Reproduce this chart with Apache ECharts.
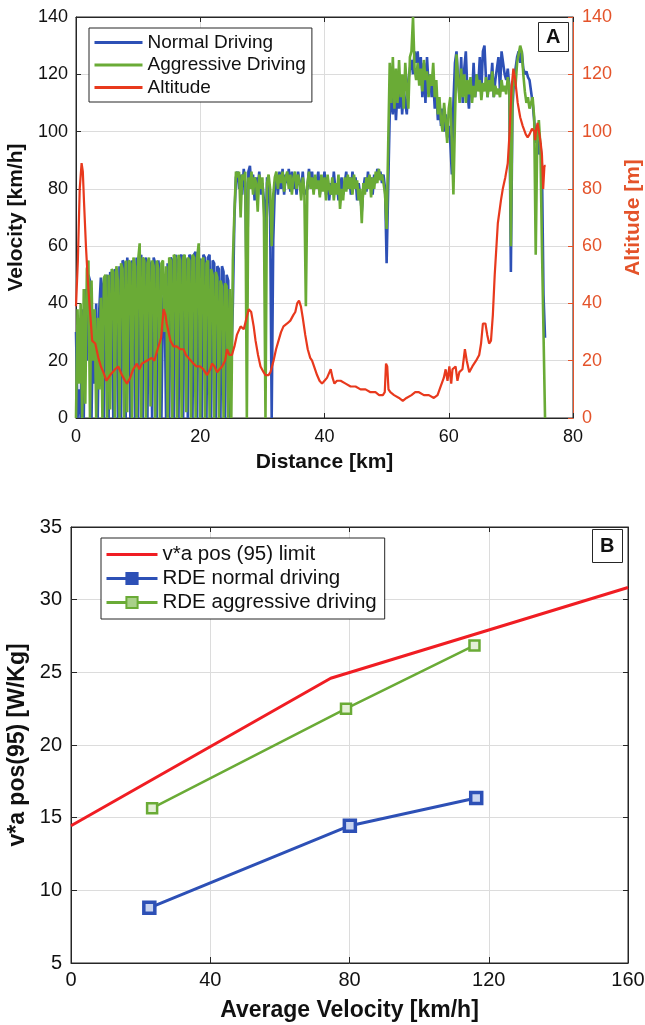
<!DOCTYPE html>
<html>
<head>
<meta charset="utf-8">
<script src="https://cdn.jsdelivr.net/npm/echarts@6/dist/echarts.min.js"></script>
<style>
  html, body { margin: 0; padding: 0; background: #fff; }
  #chart { width: 645px; height: 1025px; }
</style>
</head>
<body>
<div id="chart"></div>
<script>
// ---- panel A: RDE trip, velocity + altitude vs distance ----
// sample positions [km] shared by both velocity traces
var velDist = [
  0,0.25,0.5,0.75,1,1.25,1.5,1.75,2,2.25,2.5,2.75,3,3.25,3.5,3.75,4,4.25,4.5,4.75,
  5,5.25,5.5,5.75,6,6.25,6.5,6.75,7,7.25,7.5,7.75,8,8.25,8.5,8.75,9,9.25,9.5,9.75,
  10,10.25,10.5,10.75,11,11.25,11.5,11.75,12,12.25,12.5,12.75,13,13.25,13.5,13.75,14,14.25,14.5,14.75,
  15,15.25,15.5,15.75,16,16.25,16.5,16.75,17,17.25,17.5,17.75,18,18.25,18.5,18.75,19,19.25,19.5,19.75,
  20,20.25,20.5,20.75,21,21.25,21.5,21.75,22,22.25,22.5,22.75,23,23.25,23.5,23.75,24,24.25,24.5,24.75,
  25,25.25,25.5,25.75,26,26.25,26.5,26.75,27,27.25,27.5,27.75,28,28.25,28.5,28.75,29,29.25,29.5,29.75,
  30,30.25,30.5,30.75,31,31.25,31.5,31.75,32,32.25,32.5,32.75,33,33.25,33.5,33.75,34,34.25,34.5,34.75,
  35,35.25,35.5,35.75,36,36.25,36.5,36.75,37,37.25,37.5,37.75,38,38.25,38.5,38.75,39,39.25,39.5,39.75,
  40,40.25,40.5,40.75,41,41.25,41.5,41.75,42,42.25,42.5,42.75,43,43.25,43.5,43.75,44,44.25,44.5,44.75,
  45,45.25,45.5,45.75,46,46.25,46.5,46.75,47,47.25,47.5,47.75,48,48.25,48.5,48.75,49,49.25,49.5,49.75,
  50,50.25,50.5,50.75,51,51.25,51.5,51.75,52,52.25,52.5,52.75,53,53.25,53.5,53.75,54,54.25,54.5,54.75,
  55,55.25,55.5,55.75,56,56.25,56.5,56.75,57,57.25,57.5,57.75,58,58.25,58.5,58.75,59,59.25,59.5,59.75,
  60,60.25,60.5,60.75,61,61.25,61.5,61.75,62,62.25,62.5,62.75,63,63.25,63.5,63.75,64,64.25,64.5,64.75,
  65,65.25,65.5,65.75,66,66.25,66.5,66.75,67,67.25,67.5,67.75,68,68.25,68.5,68.75,69,69.25,69.5,69.75,
  70,70.25,70.5,70.75,71,71.25,71.5,71.75,72,72.25,72.5,72.75,73,73.25,73.5,73.75,74,74.25,74.5,74.75,
  75,75.25,75.5
];

// normal driving velocity [km/h]
var velNormal = [
  30,0,10,0, 38,0,45,20, 50,48,0,35, 12,40,0,38, 49,45,0,48,
  50,0,51,49, 0,52,50,0, 53,0,55,54, 0,56,50,0, 55,53,0,56,
  0,55,57,0, 54,56,0,55, 53,0,56,54, 0,55,50,0, 41,44,0,54,
  0,56,55,0, 57,55,0,56, 57,0,56,55, 0,57,56,0, 57,58,0,56,
  55,0,57,56, 0,56,57,0, 55,54,0,53, 52,0,53,51, 0,50,48,0,
  20,40,70,84, 86,80,85,78, 87,82,40,86, 88,80,85,76, 84,80,86,78,
  82,76,60,84, 80,70,0,62, 80,85,78,86, 80,87,78,85, 82,87,79,86,
  80,85,78,86, 82,80,86,78, 78,80,87,82, 86,79,84,82, 86,78,83,81,
  86,78,84,76, 82,78,86,80, 82,76,80,84, 78,82,86,80, 84,78,86,82,
  84,76,82,78, 72,80,84,79, 86,80,84,78, 85,82,87,84, 86,82,85,80,
  54,80,106,112, 106,116,104,114, 108,118,106,115, 110,106,118,122, 125,120,128,124,
  128,118,126,112, 124,110,126,116, 120,112,118,108, 114,104,110,102, 108,100,106,98,
  102,96,85,110, 124,128,118,112, 126,110,122,128, 114,108,118,112, 124,112,120,116,
  126,114,128,130, 118,112,120,116, 124,112,118,122, 126,114,128,124, 120,118,122,116,
  51,108,118,122, 126,128,124,128, 122,120,121,119, 118,114,110,104, 96,98,92,96,
  88,43,28
];

// aggressive driving velocity [km/h]
var velAggressive = [
  0,38,12,40, 0,45,5,52, 55,0,48,20, 38,0,35,10, 42,0,49,50,
  0,50,3,52, 51,0,53,48, 0,54,52,0, 55,2,55,54, 0,56,53,0,
  55,61,0,56, 55,0,54,56, 4,55,53,0, 55,52,0,54, 55,30,53,0,
  56,55,0,57, 56,0,57,55, 0,56,57,2, 56,55,0,57, 56,0,56,61,
  0,55,56,0, 54,55,0,52, 50,0,51,49, 0,48,46,0, 47,46,0,45,
  0,55,72,86, 84,86,70,85, 83,86,0,84, 80,86,78,84, 82,72,85,80,
  84,70,0,82, 85,80,60,78, 84,86,80,85, 82,86,79,84, 86,80,85,78,
  84,86,80,85, 82,76,84,80, 39,82,86,80, 84,78,85,80, 83,77,85,79,
  84,76,85,80, 78,84,76,82, 78,85,73,80, 76,84,79,85, 80,84,78,85,
  80,83,76,80, 68,82,78,84, 80,85,77,84, 80,86,82,87, 83,85,82,78,
  66,95,124,110, 126,108,122,110, 125,112,120,108, 124,115,108,126, 128,140,122,118,
  124,116,122,114, 125,118,121,112, 120,116,124,112, 118,106,112,104, 100,110,104,96,
  108,112,96,78, 104,127,118,110, 122,112,120,110, 118,113,119,110, 116,112,120,114,
  118,111,117,114, 119,112,118,114, 121,112,116,113, 115,112,118,114, 116,113,119,116,
  60,112,120,116, 124,127,130,128, 120,114,110,112, 108,110,112,105, 57,98,104,95,
  60,30,0
];

// altitude profile
var altDist = [
  0,0.3,0.6,0.9,1.1,1.3,1.6,1.9,2.3,2.6,3.1,3.6,4.0,4.4,4.9,5.5,6.3,6.8,7.4,7.9,
  8.2,8.7,9.2,9.8,10.2,10.6,11.4,12.2,12.6,13.0,13.7,14.1,14.4,14.6,15.2,15.7,16.2,16.8,17.3,17.7,
  18.1,18.9,19.4,20.0,20.5,21.1,21.6,21.9,22.3,22.7,23.1,23.5,24.0,24.3,24.7,25.1,25.5,25.9,26.5,27.0,
  27.3,27.8,28.2,28.6,28.9,29.3,29.7,30.2,30.5,31.0,31.3,31.8,32.2,32.6,33.0,33.4,34.0,34.5,35.0,35.3,
  35.6,35.9,36.2,36.5,36.9,37.3,37.7,38.0,38.3,38.8,39.2,39.6,40.0,40.4,40.8,41.0,41.3,41.6,42.0,42.6,
  43.4,44.2,45.0,45.8,46.6,47.4,48.2,48.8,49.4,49.7,49.9,50.1,50.3,50.6,51.2,52.0,52.6,53.2,54.0,54.6,
  55.2,56.0,56.8,57.6,58.2,58.7,59.2,59.5,59.8,60.1,60.4,60.6,61.1,61.4,61.7,62.2,62.6,62.9,63.3,63.8,
  64.4,64.9,65.2,65.5,65.9,66.2,66.5,66.8,67.1,67.4,67.9,68.4,68.7,69.1,69.5,69.8,70.1,70.4,70.7,71.1,
  71.5,71.9,72.4,72.7,73.0,73.4,73.8,73.9,74.1,74.3,74.6,74.8,75.0,75.2,75.4,75.6
];
var altitude = [
  39,55,80,89,86,75,60,48,36,27,26,21,18,16,13,15,17,18,15,13,
  12,14,17,19,17,19,20,21,20,23,28,38,36,33,27,25,25,24,24,22,
  21,19,18,18,17,15,17,19,18,16,17,18,20,24,22,22,25,29,32,31,
  31,38,37,32,27,22,18,16,15,15,16,20,24,27,30,32,33,34,36,37,
  40,41,39,35,29,24,21,20,20,15,13,12,13,14,16,17,14,12,13,13,
  12,11,11,10,10,9,9,8,8,9,19,18,10,9,8,7,6,7,8,9,
  9,8,8,7,8,11,14,17,13,18,12,17,18,13,16,17,24,20,16,18,
  20,22,26,33,33,29,26,27,36,50,68,76,80,84,89,100,115,122,118,110,
  105,102,99,98,99,101,100,97,101,103,99,96,92,80,88,88
];

// ---- panel B: v*a pos(95) vs average velocity ----
var limitSpeed = [0, 74.6, 160];
var limitVa = [14.44, 24.59, 30.84];
var normalSpeed = [22.5, 80.1, 116.4];
var normalVa = [8.8, 14.45, 16.35];
var aggressiveSpeed = [23.3, 79.0, 115.9];
var aggressiveVa = [15.65, 22.5, 26.85];

var xTicksA = [0, 20, 40, 60, 80];
var yTicksA = [0, 20, 40, 60, 80, 100, 120, 140];
var xTicksB = [0, 40, 80, 120, 160];
var yTicksB = [5, 10, 15, 20, 25, 30, 35];

function pairs (xs, ys) {
  var out = []
  for (var i = 0; i < xs.length; i++) {
    out.push([xs[i], ys[i]])
  }
  return out
}

var FONT = 'Liberation Sans, Arial, Helvetica, sans-serif'
var DARK = '#262626'
var GRIDC = '#dcdcdc'
var BLUE = '#2d50b6'
var GREEN = '#6aab36'
var ALT = '#e8391d'
var ALT_AXIS = '#e4532a'
var RED = '#f01d23'

function tickAxis (extra) {
  var base = {
    type: 'value',
    axisLine: { show: true, onZero: false, lineStyle: { color: DARK, width: 1 } },
    axisTick: { show: true, inside: true, length: 5, lineStyle: { color: DARK } },
    axisLabel: { show: false },
    splitLine: { show: false }
  }
  return Object.assign(base, extra)
}

// legend entry with a plain line (no marker)
function lineOnly (name) {
  return { name: name, itemStyle: { opacity: 0 }, lineStyle: { width: 3 } }
}

var option = {
  animation: false,
  backgroundColor: '#fff',
  textStyle: { fontFamily: FONT },
  title: [{
    text: 'A',
    left: 538,
    top: 22,
    padding: [5, 8, 5, 8],
    borderColor: DARK,
    borderWidth: 1,
    backgroundColor: '#fff',
    textStyle: { fontSize: 20, fontWeight: 'bold', color: '#111', fontFamily: FONT }
  }, {
    text: 'B',
    left: 592,
    top: 529,
    padding: [7, 8, 7, 8],
    borderColor: DARK,
    borderWidth: 1,
    backgroundColor: '#fff',
    textStyle: { fontSize: 20, fontWeight: 'bold', color: '#111', fontFamily: FONT }
  }],
  legend: [{
    data: [lineOnly('Normal Driving'), lineOnly('Aggressive Driving'), lineOnly('Altitude')],
    orient: 'vertical',
    left: 89,
    top: 28,
    itemWidth: 48,
    itemHeight: 14,
    itemGap: 3.5,
    padding: [5, 6, 5, 4],
    borderColor: DARK,
    borderWidth: 1,
    backgroundColor: '#fff',
    selectedMode: false,
    textStyle: { fontSize: 19, color: '#111', fontFamily: FONT }
  }, {
    data: [
      lineOnly('v*a pos (95) limit'),
      { name: 'RDE normal driving', itemStyle: { color: BLUE, borderColor: BLUE }, lineStyle: { width: 3 } },
      { name: 'RDE aggressive driving', itemStyle: { color: '#a9d08a', borderColor: GREEN }, lineStyle: { width: 3 } }
    ],
    orient: 'vertical',
    left: 101,
    top: 538,
    itemWidth: 51,
    itemHeight: 14,
    itemGap: 3,
    padding: [6, 8, 6, 4],
    borderColor: DARK,
    borderWidth: 1,
    backgroundColor: '#fff',
    selectedMode: false,
    textStyle: { fontSize: 20.5, color: '#111', fontFamily: FONT }
  }],
  grid: [{
    left: 76, top: 17, width: 497, height: 401,
    outerBoundsMode: 'none',
    show: true, borderColor: DARK, borderWidth: 1
  }, {
    left: 71, top: 527, width: 557, height: 436,
    outerBoundsMode: 'none',
    show: true, borderColor: DARK, borderWidth: 1
  }],
  xAxis: [{
    gridIndex: 0,
    type: 'value',
    min: xTicksA[0],
    max: xTicksA[xTicksA.length - 1],
    interval: 20,
    axisLine: { onZero: false, lineStyle: { color: DARK } },
    axisTick: { inside: true, length: 5, lineStyle: { color: DARK } },
    axisLabel: { fontSize: 18, color: '#111', margin: 10, fontFamily: FONT },
    splitLine: { show: true, lineStyle: { color: GRIDC } },
    name: 'Distance [km]',
    nameLocation: 'middle',
    nameGap: 34,
    nameTextStyle: { fontSize: 21, fontWeight: 'bold', color: '#111', fontFamily: FONT }
  },
  tickAxis({ gridIndex: 0, position: 'top', min: 0, max: 80, interval: 20 }),
  {
    gridIndex: 1,
    type: 'value',
    min: xTicksB[0],
    max: xTicksB[xTicksB.length - 1],
    interval: 40,
    axisLine: { onZero: false, lineStyle: { color: DARK } },
    axisTick: { inside: true, length: 6, lineStyle: { color: DARK } },
    axisLabel: { fontSize: 20, color: '#111', margin: 7, fontFamily: FONT },
    splitLine: { show: true, lineStyle: { color: GRIDC } },
    name: 'Average Velocity [km/h]',
    nameLocation: 'middle',
    nameGap: 36,
    nameTextStyle: { fontSize: 23, fontWeight: 'bold', color: '#111', fontFamily: FONT }
  },
  tickAxis({ gridIndex: 1, position: 'top', min: 0, max: 160, interval: 40 })
  ],
  yAxis: [{
    gridIndex: 0,
    type: 'value',
    position: 'left',
    min: yTicksA[0],
    max: yTicksA[yTicksA.length - 1],
    interval: 20,
    axisLine: { show: true, onZero: false, lineStyle: { color: DARK } },
    axisTick: { show: true, inside: true, length: 5, lineStyle: { color: DARK } },
    axisLabel: { fontSize: 18, color: '#111', margin: 8, fontFamily: FONT },
    splitLine: { show: true, lineStyle: { color: GRIDC } },
    name: 'Velocity [km/h]',
    nameLocation: 'middle',
    nameGap: 40,
    nameTextStyle: { fontSize: 21, fontWeight: 'bold', color: '#111', fontFamily: FONT }
  }, {
    gridIndex: 0,
    type: 'value',
    position: 'right',
    min: 0,
    max: 140,
    interval: 20,
    axisLine: { show: true, onZero: false, lineStyle: { color: ALT_AXIS } },
    axisTick: { show: true, inside: true, length: 5, lineStyle: { color: ALT_AXIS } },
    axisLabel: { fontSize: 18, color: ALT_AXIS, margin: 9, fontFamily: FONT },
    splitLine: { show: false },
    name: 'Altitude [m]',
    nameLocation: 'middle',
    nameGap: 47,
    nameTextStyle: { fontSize: 21, fontWeight: 'bold', color: ALT_AXIS, fontFamily: FONT }
  }, {
    gridIndex: 1,
    type: 'value',
    position: 'left',
    min: yTicksB[0],
    max: yTicksB[yTicksB.length - 1],
    interval: 5,
    axisLine: { show: true, onZero: false, lineStyle: { color: DARK } },
    axisTick: { show: true, inside: true, length: 6, lineStyle: { color: DARK } },
    axisLabel: { fontSize: 20, color: '#111', margin: 9, fontFamily: FONT },
    splitLine: { show: true, lineStyle: { color: GRIDC } },
    name: 'v*a pos(95) [W/Kg]',
    nameLocation: 'middle',
    nameGap: 28,
    nameTextStyle: { fontSize: 23, fontWeight: 'bold', color: '#111', fontFamily: FONT }
  },
  tickAxis({ gridIndex: 1, position: 'right', min: 5, max: 35, interval: 5 })
  ],
  series: [{
    name: 'Normal Driving',
    type: 'line',
    xAxisIndex: 0,
    yAxisIndex: 0,
    symbol: 'none',
    lineStyle: { width: 2.6, color: BLUE },
    itemStyle: { color: BLUE },
    data: pairs(velDist, velNormal)
  }, {
    name: 'Aggressive Driving',
    type: 'line',
    xAxisIndex: 0,
    yAxisIndex: 0,
    symbol: 'none',
    lineStyle: { width: 2.6, color: GREEN },
    itemStyle: { color: GREEN },
    data: pairs(velDist, velAggressive)
  }, {
    name: 'Altitude',
    type: 'line',
    xAxisIndex: 0,
    yAxisIndex: 1,
    symbol: 'none',
    lineStyle: { width: 2.2, color: ALT },
    itemStyle: { color: ALT },
    data: pairs(altDist, altitude)
  }, {
    name: 'v*a pos (95) limit',
    type: 'line',
    xAxisIndex: 2,
    yAxisIndex: 2,
    symbol: 'none',
    lineStyle: { width: 3, color: RED },
    itemStyle: { color: RED },
    data: pairs(limitSpeed, limitVa)
  }, {
    name: 'RDE normal driving',
    type: 'line',
    xAxisIndex: 2,
    yAxisIndex: 2,
    symbol: 'rect',
    symbolSize: 11,
    lineStyle: { width: 3, color: BLUE },
    itemStyle: { color: '#c9d4f0', borderColor: BLUE, borderWidth: 3.5 },
    data: pairs(normalSpeed, normalVa)
  }, {
    name: 'RDE aggressive driving',
    type: 'line',
    xAxisIndex: 2,
    yAxisIndex: 2,
    symbol: 'rect',
    symbolSize: 10,
    lineStyle: { width: 2.5, color: GREEN },
    itemStyle: { color: '#e4f0d8', borderColor: GREEN, borderWidth: 2.5 },
    data: pairs(aggressiveSpeed, aggressiveVa)
  }]
}

var chart = echarts.init(document.getElementById('chart'))
chart.setOption(option)
</script>
</body>
</html>
